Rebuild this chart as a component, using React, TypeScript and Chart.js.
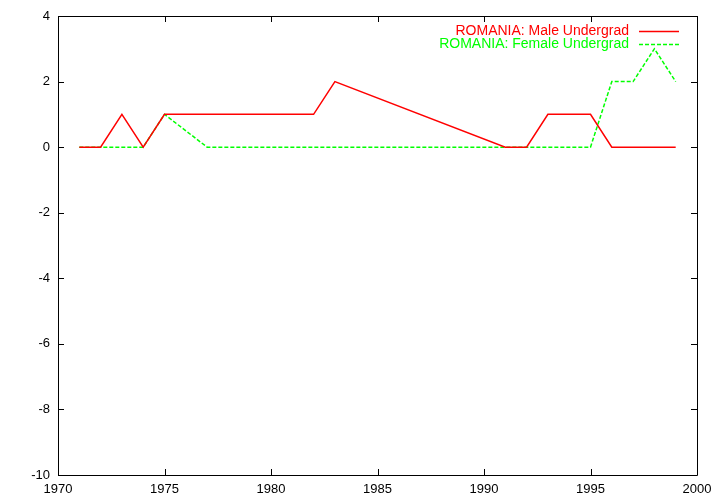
import React, { useEffect, useRef } from "react";
import { Chart, registerables } from "chart.js";

Chart.register(...registerables);

const maleYears = [1971, 1972, 1973, 1974, 1975, 1976, 1977, 1978, 1979, 1980, 1981, 1982, 1983, 1991, 1992, 1993, 1994, 1995, 1996, 1997, 1998, 1999];
const maleValues = [0, 0, 1, 0, 1, 1, 1, 1, 1, 1, 1, 1, 2, 0, 0, 1, 1, 1, 0, 0, 0, 0];
const femaleYears = [1971, 1972, 1973, 1974, 1975, 1977, 1978, 1979, 1980, 1981, 1982, 1983, 1984, 1985, 1986, 1987, 1988, 1989, 1990, 1991, 1992, 1993, 1994, 1995, 1996, 1997, 1998, 1999];
const femaleValues = [0, 0, 0, 0, 1, 0, 0, 0, 0, 0, 0, 0, 0, 0, 0, 0, 0, 0, 0, 0, 0, 0, 0, 0, 2, 2, 3, 2];
const seriesLabels = ["ROMANIA: Male Undergrad", "ROMANIA: Female Undergrad"];
const xMin = 1970, xMax = 2000, xStep = 5;
const yMin = -10, yMax = 4, yStep = 2;

const FONT = "'Liberation Sans', Arial, Helvetica, sans-serif";

const framePlugin = {
  id: "gnuplotFrame",
  afterDraw(chart: any) {
    const { ctx, chartArea: a, scales } = chart;
    const xs = scales.x, ys = scales.y;
    ctx.save();
    ctx.strokeStyle = "#000";
    ctx.lineWidth = 1;
    ctx.beginPath();
    ctx.rect(Math.round(a.left) + 0.5, Math.round(a.top) + 0.5, Math.round(a.right - a.left), Math.round(a.bottom - a.top));
    ctx.stroke();
    const tl = 6;
    ctx.beginPath();
    xs.ticks.forEach((t: any) => {
      const px = Math.round(xs.getPixelForValue(t.value)) + 0.5;
      ctx.moveTo(px, a.bottom);
      ctx.lineTo(px, a.bottom - tl);
      ctx.moveTo(px, a.top);
      ctx.lineTo(px, a.top + tl);
    });
    ys.ticks.forEach((t: any) => {
      const py = Math.round(ys.getPixelForValue(t.value)) + 0.5;
      ctx.moveTo(a.left, py);
      ctx.lineTo(a.left + tl, py);
      ctx.moveTo(a.right, py);
      ctx.lineTo(a.right - tl, py);
    });
    ctx.stroke();
    // legend (gnuplot style: text then sample)
    ctx.font = "14px " + FONT;
    ctx.textAlign = "right";
    ctx.textBaseline = "middle";
    chart.data.datasets.forEach((ds: any, i: number) => {
      const y = 31 + i * 13;
      ctx.fillStyle = ds.borderColor;
      ctx.fillText(ds.label, 629, y);
      ctx.strokeStyle = ds.borderColor;
      ctx.lineWidth = 1.5;
      ctx.setLineDash(ds.borderDash || []);
      ctx.beginPath();
      ctx.moveTo(639, y + 0.5);
      ctx.lineTo(679, y + 0.5);
      ctx.stroke();
      ctx.setLineDash([]);
    });
    ctx.restore();
  },
};

export default function App() {
  const ref = useRef<HTMLCanvasElement>(null);
  useEffect(() => {
    const toPts = (xs: number[], ys: number[]) => xs.map((x, i) => ({ x, y: ys[i] }));
    const chart = new Chart(ref.current!, {
      type: "line",
      data: {
        datasets: [
          {
            label: seriesLabels[0],
            data: toPts(maleYears, maleValues),
            borderColor: "#ff0000",
            borderWidth: 1.5,
            pointRadius: 0,
            tension: 0,
            fill: false,
          },
          {
            label: seriesLabels[1],
            data: toPts(femaleYears, femaleValues),
            borderColor: "#00ff00",
            borderWidth: 1.5,
            borderDash: [4, 2],
            pointRadius: 0,
            tension: 0,
            fill: false,
          },
        ],
      },
      options: {
        animation: false,
        responsive: false,
        layout: { padding: { top: 16, right: 23, left: 0, bottom: 0 } },
        plugins: { legend: { display: false }, tooltip: { enabled: false } },
        scales: {
          x: {
            type: "linear",
            min: xMin,
            max: xMax,
            grid: { display: false, drawTicks: false },
            border: { display: false },
            ticks: {
              stepSize: xStep,
              padding: 7,
              color: "#000",
              font: { family: FONT, size: 13 },
              maxRotation: 0,
              callback: (v: any) => String(v),
            },
            afterFit: (s: any) => { s.height = 29; },
          },
          y: {
            type: "linear",
            min: yMin,
            max: yMax,
            grid: { display: false, drawTicks: false },
            border: { display: false },
            ticks: {
              stepSize: yStep,
              padding: 8,
              color: "#000",
              font: { family: FONT, size: 13 },
              callback: (v: any) => String(v),
            },
            afterFit: (s: any) => { s.width = 58; },
          },
        },
      },
      plugins: [framePlugin],
    });
    return () => chart.destroy();
  }, []);
  return (
    <div style={{ position: "fixed", left: 0, top: 0, width: 720, height: 504, background: "#fff" }}>
      <canvas ref={ref} width={720} height={504} />
    </div>
  );
}
